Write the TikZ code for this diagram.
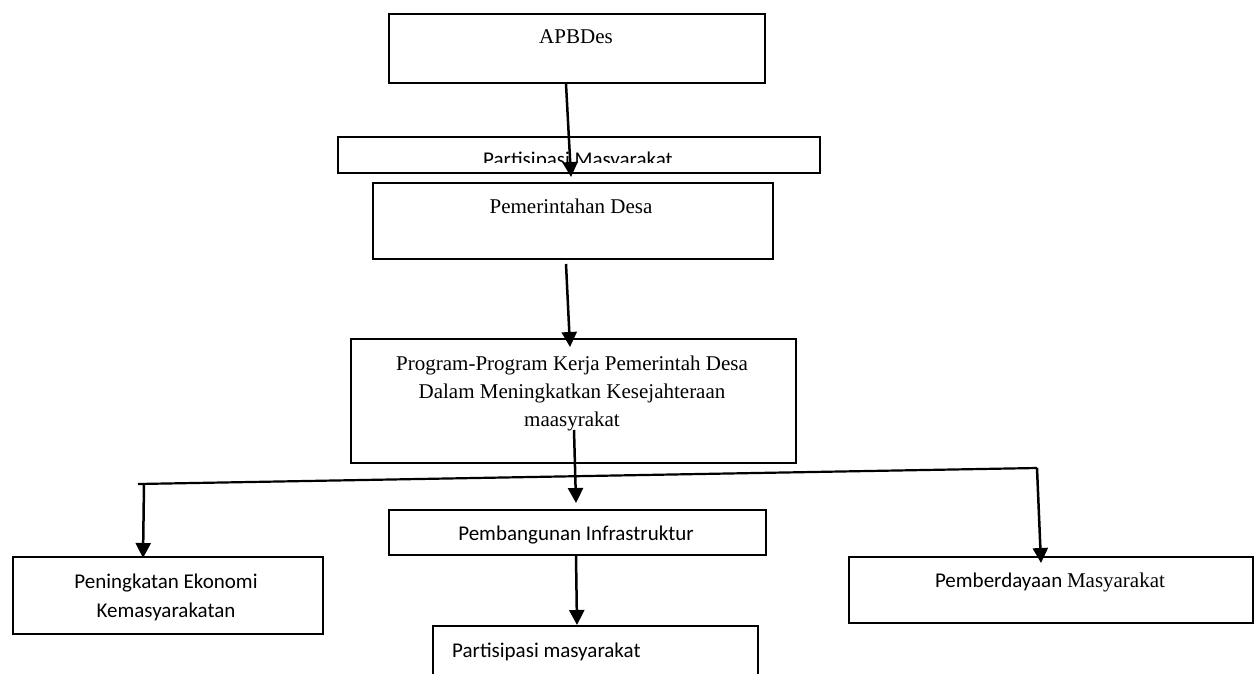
\documentclass[tikz,border=0pt]{standalone}
\usepackage{fontspec}
\newfontfamily\tnrfont{Liberation Serif}
\newfontfamily\calfont{Carlito}
\usetikzlibrary{arrows.meta,calc}
\tikzset{
  box/.style={draw, line width=2pt, rectangle, inner sep=0pt, anchor=north west},
  arr/.style={line width=2.5pt, -{Triangle[length=15pt,width=15pt]}},
  hline/.style={line width=2.2pt},
  sertxt/.style={inner sep=0pt, font=\tnrfont\fontsize{21}{28}\selectfont, align=center},
  saltxt/.style={inner sep=0pt, font=\calfont\fontsize{21}{29}\selectfont, align=center},
}
\begin{document}
\begin{tikzpicture}[x=1pt,y=-1pt]
\useasboundingbox (0,0) rectangle (1254,673);
% boxes
\node[box, minimum width=376pt, minimum height=69pt] (apb) at (388,13) {};
\node[box, minimum width=482pt, minimum height=36pt] (pm) at (337,136) {};
\node[box, minimum width=400pt, minimum height=76pt] (pd) at (372,182) {};
\node[box, minimum width=445pt, minimum height=124pt] (prog) at (350,338) {};
\node[box, minimum width=377pt, minimum height=45pt] (pi) at (388,509) {};
\node[box, minimum width=310pt, minimum height=77pt] (pe) at (12,556) {};
\node[box, minimum width=404pt, minimum height=66pt] (pb) at (848,556) {};
\node[box, minimum width=325pt, minimum height=70pt] (pmb) at (432,625) {};
% texts
\node[sertxt, anchor=base] (apbt) at (576,43) {APBDes};
\begin{scope}
\clip (338,137) rectangle (818,162);
\node[saltxt, anchor=base] (pmt) at (578,166.5) {Partisipasi Masyarakat};
\end{scope}
\node[sertxt, anchor=base] (pdt) at (571,213) {Pemerintahan Desa};
\node[sertxt, anchor=base] (progt) at (572,426) {Program-Program Kerja Pemerintah Desa\\Dalam Meningkatkan Kesejahteraan\\maasyrakat};
\node[saltxt, anchor=base] (pit) at (576,540) {Pembangunan Infrastruktur};
\node[saltxt, anchor=base] (pet) at (166,617) {Peningkatan Ekonomi\\Kemasyarakatan};
\node[saltxt, anchor=base] (pbt) at (1050,587) {Pemberdayaan {\tnrfont Masyarakat}};
\node[saltxt, anchor=base west] (pmbt) at (452,657) {Partisipasi masyarakat};
% connectors
\coordinate (hl) at (138,484);
\coordinate (hr) at (1037,468);
\draw[arr] ($(apb.south)+(-11,0)$) -- ($(pd.north)+(-2,-5)$);
\draw[arr] ($(pd.south)+(-7,4)$) -- ($(prog.north)+(-3.5,9)$);
\draw[arr] ($(prog.south)+(0.5,-34)$) -- ($(pi.north)+(-1.5,-6)$);
\draw[hline] (hl) -- (hr);
\draw[arr] (hr) -- ($(pb.north)+(-10,7)$);
\draw[arr] ($(hl)+(6,0)$) -- ($(pe.north)+(-25,2)$);
\draw[arr] (pi.south -| pit) -- ($(pmb.north)+(-18.5,0)$);
\end{tikzpicture}
\end{document}
